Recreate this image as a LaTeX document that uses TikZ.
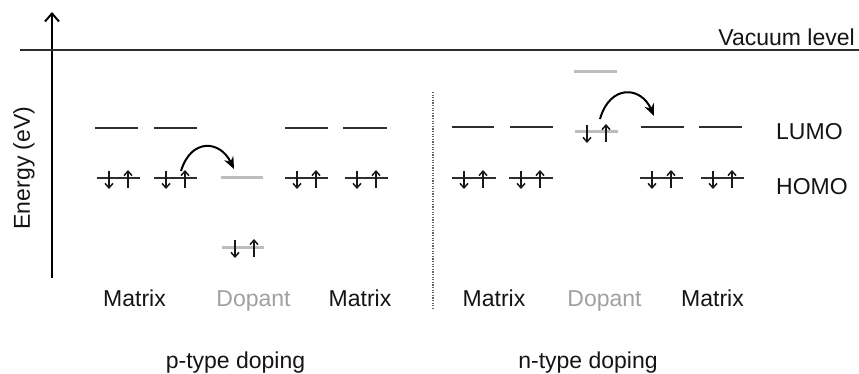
\documentclass[tikz,border=0pt]{standalone}
\usepackage{fontspec}
\setmainfont{Liberation Sans}
\usetikzlibrary{arrows.meta}
\definecolor{levelgray}{HTML}{2E2E2E}
\definecolor{dopgray}{HTML}{BDBDBD}
\definecolor{labgray}{HTML}{A0A0A0}
\tikzset{
  lvl/.style={draw=levelgray, line width=2.2pt},
  doplvl/.style={draw=dopgray, line width=3pt},
  spin/.style={draw=black!90, line width=1.8pt, -{Straight Barb[length=4.5pt,width=8pt,line width=1.5pt]}},
  hop/.style={draw=black, line width=2pt, -{Stealth[length=12pt,width=10pt]}},
  txt/.style={font=\fontsize{23}{27}\selectfont, text=black!92, inner sep=0pt},
  doptxt/.style={txt, text=labgray},
}
% a horizontal level from x=#2 to x=#3 at height #4
\newcommand{\levelline}[4][lvl]{\draw[#1] (#2,#4) -- (#3,#4);}
% a spin pair (down, up) on a level starting at x=#1, height #2
\newcommand{\spinpair}[2]{%
  \draw[spin] (#1+12,#2-7) -- (#1+12,#2+11);
  \draw[spin] (#1+31,#2+10) -- (#1+31,#2-8);}
\begin{document}
\begin{tikzpicture}[x=1pt,y=-1pt]
\useasboundingbox (0,0) rectangle (859,374);

% energy axis and vacuum level
\coordinate (axB) at (52,278);
\coordinate (axT) at (52,12);
\draw[line width=2.4pt, -{Straight Barb[length=8pt,width=14pt,line width=2pt]}] (axB) -- (axT);
\coordinate (vacL) at (20,50);
\coordinate (vacR) at (859,50);
\draw[levelgray, line width=2.2pt] (vacL) -- (vacR);
\node[txt, anchor=base east] (vac) at (855,46) {Vacuum level};
\node[txt, rotate=90] (energy) at (24,168) {Energy (eV)};

% separator
\coordinate (sepT) at (433,92);
\coordinate (sepB) at (433,308);
\draw[black!60, line width=1.3pt, dash pattern=on 1.3pt off 1.3pt] (sepT) -- (sepB);

% ---- p-type doping ----
\levelline{95}{138}{128}
\levelline{154}{197}{128}
\levelline{285}{328}{128}
\levelline{343}{387}{128}
\levelline{97}{140}{178}
\levelline{154}{197}{178}
\levelline[doplvl]{221}{263}{178}
\levelline{285}{328}{178}
\levelline{345}{388}{178}
\levelline[doplvl]{222}{264}{247}
\spinpair{97}{178}
\spinpair{154}{178}
\spinpair{285}{178}
\spinpair{345}{178}
\spinpair{223}{247}
\coordinate (pA) at (181,171);
\coordinate (pB) at (234,169);
\draw[hop] (pA) .. controls (191,138) and (220,140) .. (pB);

% ---- n-type doping ----
\levelline{452}{494}{127}
\levelline{510}{553}{127}
\levelline[doplvl]{574}{617}{72}
\levelline{641}{684}{127}
\levelline{699}{742}{127}
\levelline[doplvl]{575}{618}{132}
\levelline{452}{496}{178}
\levelline{509}{553}{178}
\levelline{640}{683}{178}
\levelline{701}{744}{178}
\spinpair{452}{178}
\spinpair{509}{178}
\spinpair{640}{178}
\spinpair{701}{178}
\spinpair{575}{132}
\coordinate (nA) at (600,119);
\coordinate (nB) at (654,116);
\draw[hop] (nA) .. controls (610,84) and (641,86) .. (nB);

% level labels
\node[txt, anchor=base west] (lumo) at (776,140) {LUMO};
\node[txt, anchor=base west] (homo) at (776,195) {HOMO};

% column labels
\node[txt, anchor=base] (m1) at (134.5,306) {Matrix};
\node[doptxt, anchor=base] (d1) at (253.5,306) {Dopant};
\node[txt, anchor=base] (m2) at (360,306) {Matrix};
\node[txt, anchor=base] (m3) at (494,306) {Matrix};
\node[doptxt, anchor=base] (d2) at (604.5,306) {Dopant};
\node[txt, anchor=base] (m4) at (712.5,306) {Matrix};

\node[txt, anchor=base] (ptype) at (235.5,368) {p-type doping};
\node[txt, anchor=base] (ntype) at (588,368) {n-type doping};
\end{tikzpicture}
\end{document}
